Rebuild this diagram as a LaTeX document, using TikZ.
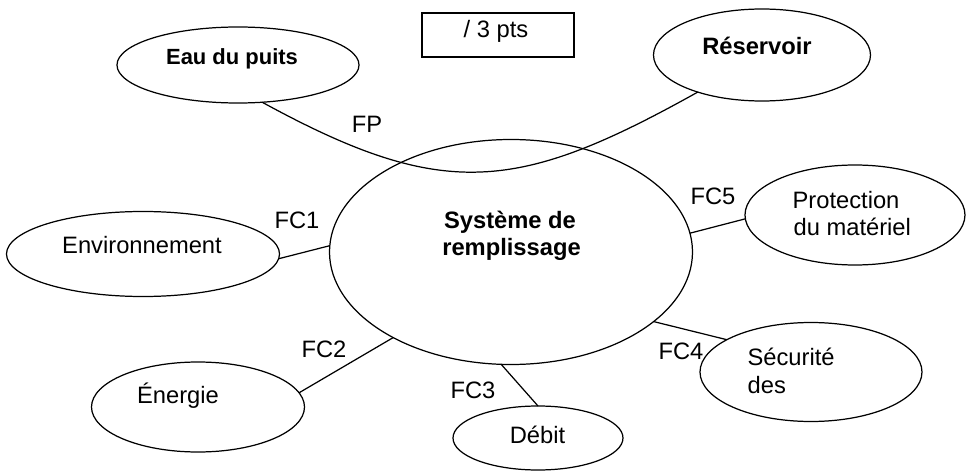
\documentclass[tikz,border=0pt]{standalone}
\usepackage{fontspec}
\setmainfont{Liberation Sans}
\usepackage{tikz}
\usetikzlibrary{positioning,shapes.geometric}

\tikzset{
	bulle/.style={draw, ellipse, inner sep=0pt, outer sep=0pt},
	txt/.style={inner sep=0pt, anchor=base, font=\fontsize{13.5}{16}\selectfont},
	txtl/.style={txt, anchor=base west},
	txtb/.style={txt, font=\fontsize{13.5}{16}\selectfont\bfseries},
	lien/.style={draw}
}

\begin{document}
\begin{tikzpicture}[line width=0.7pt]
	\useasboundingbox (0,0) rectangle (19.36,9.46);
	\node[bulle, minimum width=4.84cm, minimum height=1.52cm] (eau) at (4.76,8.16) {};
	\node[bulle, minimum width=4.34cm, minimum height=1.84cm] (res) at (15.24,8.36) {};
	\node[bulle, minimum width=7.26cm, minimum height=4.50cm] (sys) at (10.22,4.42) {};
	\node[bulle, minimum width=5.46cm, minimum height=1.70cm] (env) at (2.86,4.38) {};
	\node[bulle, minimum width=4.26cm, minimum height=1.80cm] (ene) at (3.96,1.32) {};
	\node[bulle, minimum width=3.40cm, minimum height=1.28cm] (deb) at (10.76,0.70) {};
	\node[bulle, minimum width=4.44cm, minimum height=1.98cm] (sec) at (16.22,2.02) {};
	\node[bulle, minimum width=4.40cm, minimum height=2.00cm] (pro) at (17.10,5.16) {};
	\node[draw, inner sep=0pt, minimum width=3.04cm, minimum height=0.88cm] (note) at (9.96,8.76) {};

	\node[txtb, font=\fontsize{12.5}{15}\selectfont\bfseries] (eau-t) at (4.64,8.16) {Eau du puits};
	\node[txtb] (res-t) at (15.14,8.36) {Réservoir};
	\node[txtb] (sys-t1) at (10.20,4.90) {Système de};
	\node[txtb] (sys-t2) at (10.23,4.36) {remplissage};
	\node[txt] (env-t) at (2.84,4.40) {Environnement};
	\node[txt] (ene-t) at (3.56,1.40) {Énergie};
	\node[txt] (deb-t) at (10.75,0.60) {Débit};
	\node[txtl] (sec-t1) at (14.94,2.16) {Sécurité};
	\node[txtl] (sec-t2) at (14.94,1.60) {des};
	\node[txtl] (pro-t1) at (15.84,5.30) {Protection};
	\node[txtl] (pro-t2) at (15.86,4.76) {du matériel};
	\node[txt] (note-t) at (9.92,8.70) {/ 3 pts};

	\node[txt] (fp) at (7.34,6.82) {FP};
	\node[txt] (fc1) at (5.94,4.88) {FC1};
	\node[txt] (fc2) at (6.48,2.32) {FC2};
	\node[txt] (fc3) at (9.46,1.50) {FC3};
	\node[txt] (fc4) at (13.62,2.28) {FC4};
	\node[txt] (fc5) at (14.26,5.36) {FC5};

	\draw[lien] (eau.-57) .. controls (8.86,5.44) and (10.34,5.60) .. (res.-150);
	\draw[lien] (env.-2) -- (sys.178);
	\draw[lien] (ene.8) -- (sys.-144);
	\draw[lien] (sys.-95) -- (deb.north);
	\draw[lien] (sys.-26) -- (sec.159);
	\draw[lien] (sys.6) -- (pro.182);
\end{tikzpicture}
\end{document}
